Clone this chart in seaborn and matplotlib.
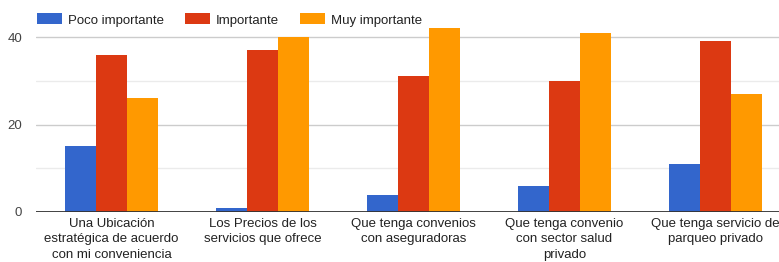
import matplotlib
matplotlib.use("Agg")
import matplotlib.pyplot as plt
import seaborn as sns
import pandas as pd
from matplotlib.patches import Patch

categorias = [
    "Una Ubicación\nestratégica de acuerdo\ncon mi conveniencia",
    "Los Precios de los\nservicios que ofrece",
    "Que tenga convenios\ncon aseguradoras",
    "Que tenga convenio\ncon sector salud\nprivado",
    "Que tenga servicio de\nparqueo privado",
]
series = ["Poco importante", "Importante", "Muy importante"]
poco = [15, 1, 4, 6, 11]
importante = [36, 37, 31, 30, 39]
muy = [26, 40, 42, 41, 27]
colores = ["#3366cc", "#dc3912", "#ff9900"]

rows = []
for s, vals in zip(series, [poco, importante, muy]):
    for c, v in zip(categorias, vals):
        rows.append({"cat": c, "serie": s, "val": v})
df = pd.DataFrame(rows)

sns.set_theme(style="white")
plt.rcParams["font.family"] = ["Liberation Sans", "DejaVu Sans"]

fig = plt.figure(figsize=(7.79, 2.62), dpi=100)
ax = fig.add_axes([36 / 779, 50 / 262, 755 / 779, 46 * 4.375 / 262])

sns.barplot(data=df, x="cat", y="val", hue="serie", palette=colores,
            width=0.62, gap=0, saturation=1, edgecolor="none", linewidth=0,
            ax=ax, legend=False, zorder=3)

ax.set_xlim(-0.5, 4.5)
ax.set_ylim(0, 46)
for y in [10, 30]:
    ax.axhline(y, color="#ebebeb", lw=1, zorder=0)
for y in [20, 40]:
    ax.axhline(y, color="#cccccc", lw=1, zorder=0)
ax.axhline(0, color="#333333", lw=1.3, zorder=4)
ax.set_yticks([0, 20, 40])
ax.set_yticklabels(["0", "20", "40"], fontsize=9.5, color="#444444")
ax.tick_params(axis="y", length=0, pad=10)
ax.tick_params(axis="x", length=0, pad=4.5, labelsize=9.5, labelcolor="#222222")
ax.set_xlabel("")
ax.set_ylabel("")
for sp in ax.spines.values():
    sp.set_visible(False)
for lab in ax.get_xticklabels():
    lab.set_linespacing(1.35)

handles = [Patch(facecolor=c, edgecolor="none") for c in colores]
fig.legend(handles, series, loc="center left", bbox_to_anchor=(25 / 779, 1 - 20 / 262),
           ncol=3, frameon=False, fontsize=9.5, handlelength=1.9, handleheight=0.9,
           handletextpad=0.45, columnspacing=1.6, labelcolor="#222222")

fig.savefig("out.png", dpi=100)
